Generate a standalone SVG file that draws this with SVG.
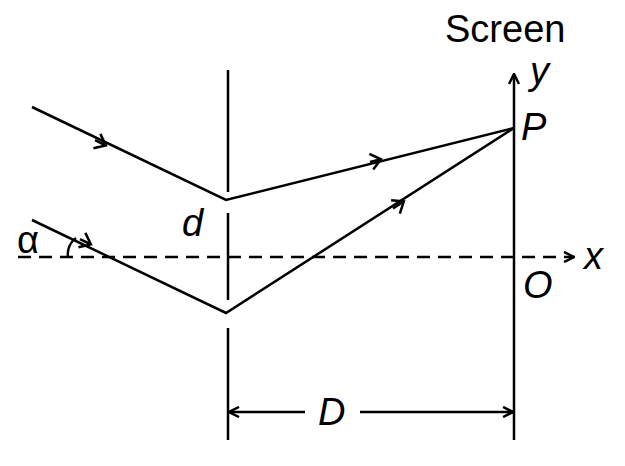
<svg xmlns="http://www.w3.org/2000/svg" width="625" height="466" viewBox="0 0 625 466">
<style>
.l{stroke:#000;stroke-width:2.5;fill:none}
.t{font-family:"Liberation Sans",Arial,sans-serif;font-size:38px;fill:#000}
.i{font-style:italic}
</style>
<defs>
<marker id="a" viewBox="0 0 12 12" refX="11" refY="6" markerWidth="12" markerHeight="12" markerUnits="userSpaceOnUse" orient="auto"><path d="M1,1 L11,6 L1,11" fill="none" stroke="#000" stroke-width="2.5"/></marker>
<marker id="h" viewBox="0 0 20 20" refX="12" refY="10" markerWidth="20" markerHeight="20" markerUnits="userSpaceOnUse" orient="auto"><path d="M3,2 L13,10 L3,18" fill="none" stroke="#000" stroke-width="2.5"/></marker>
</defs>
<g id="barrier"><path class="l" d="M228,70V192M228,213V300M228,328V440"/></g>
<g id="screen"><path class="l" d="M514,440V74" marker-end="url(#a)"/></g>
<g id="axis"><path class="l" d="M18,257H574" stroke-dasharray="13,8" marker-end="url(#a)"/></g>
<g id="connectors">
<path class="l" d="M32,107L226,200L514,128"/>
<path class="l" d="M32,220L226,313L514,128"/>
<path class="l" d="M95,140.2L105,145" marker-end="url(#h)"/>
<path class="l" d="M370,162L380,159.5" marker-end="url(#h)"/>
<path class="l" d="M80,239.2L90,244" marker-end="url(#h)"/>
<path class="l" d="M393,208.5L403,202" marker-end="url(#h)"/>
<path class="l" d="M68,257 A20,20 0 0 1 76,238"/>
<path class="l" d="M305,412H229" marker-end="url(#a)"/>
<path class="l" d="M360,412H513" marker-end="url(#a)"/>
</g>
<g id="labels">
<text class="t" x="445" y="42">Screen</text>
<text class="t i" x="530" y="84">y</text>
<text class="t i" x="521" y="140">P</text>
<text class="t i" x="182" y="236">d</text>
<text class="t" x="17" y="253">α</text>
<text class="t i" x="584" y="269">x</text>
<text class="t i" x="523" y="298">O</text>
<text class="t i" x="318" y="425">D</text>
</g>
</svg>
